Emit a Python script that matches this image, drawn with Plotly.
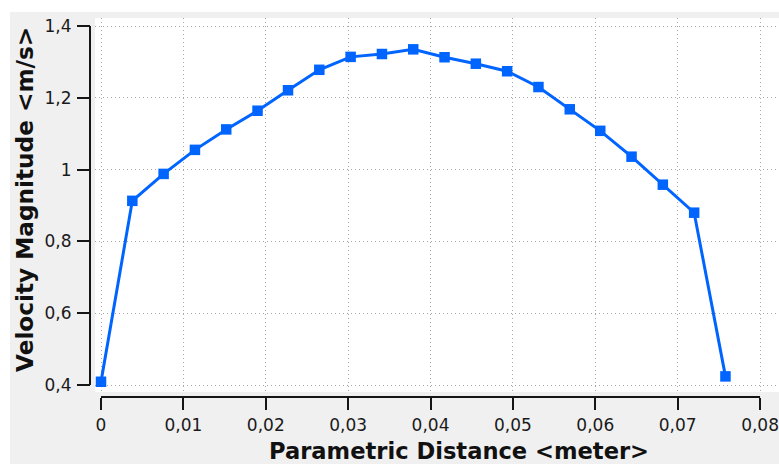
import plotly.graph_objects as go

# ---- data ----
distance = [0.0, 0.0038, 0.0076, 0.0114, 0.0152, 0.0190, 0.0227, 0.0265, 0.0303,
            0.0341, 0.0379, 0.0417, 0.0455, 0.0493, 0.0531, 0.0569, 0.0606,
            0.0644, 0.0682, 0.0720, 0.0758]
velocity = [0.409, 0.913, 0.988, 1.055, 1.112, 1.164, 1.221, 1.278, 1.314,
            1.322, 1.335, 1.313, 1.295, 1.274, 1.230, 1.168, 1.108,
            1.036, 0.958, 0.880, 0.424]

x_tickvals = [0, 0.01, 0.02, 0.03, 0.04, 0.05, 0.06, 0.07, 0.08]
x_ticktext = ["0", "0,01", "0,02", "0,03", "0,04", "0,05", "0,06", "0,07", "0,08"]
y_tickvals = [0.4, 0.6, 0.8, 1.0, 1.2, 1.4]
y_ticktext = ["0,4", "0,6", "0,8", "1", "1,2", "1,4"]

x_title = "Parametric Distance <meter>"
y_title = "Velocity Magnitude <m/s>"

# ---- layout geometry ----
W, H = 779, 464
xdom = [95 / W, 1.0]
ydom = [1 - 392 / H, 1 - 18 / H]
xr = [-0.00073, 0.0823]
yr = [0.3805, 1.4223]
x_axis_pos = 1 - 397 / H
y_axis_pos = 90 / W


def xp(v):
    return xdom[0] + (v - xr[0]) / (xr[1] - xr[0]) * (xdom[1] - xdom[0])


def yp(v):
    return ydom[0] + (v - yr[0]) / (yr[1] - yr[0]) * (ydom[1] - ydom[0])


blue = "#0064ff"
font_fam = "DejaVu Sans"

fig = go.Figure()
fig.add_trace(go.Scatter(
    x=distance, y=velocity, mode="lines+markers",
    line=dict(color=blue, width=3),
    marker=dict(symbol="square", size=10.5, color=blue),
    showlegend=False, hoverinfo="x+y",
))

axis_common = dict(
    showline=False, zeroline=False, showgrid=True,
    gridcolor="#a8a8a8", gridwidth=1, griddash="1px,3px",
    ticks="outside", tickcolor="#151515", tickwidth=2,
    tickfont=dict(family=font_fam, size=17, color="#1a1a1a"),
)

fig.update_layout(
    width=W, height=H,
    margin=dict(l=0, r=0, t=0, b=0),
    paper_bgcolor="#f0f0f0",
    plot_bgcolor="#ffffff",
    xaxis=dict(domain=xdom, range=xr, anchor="free", position=x_axis_pos,
               tickvals=x_tickvals, ticktext=x_ticktext, ticklen=12,
               automargin=False, ticklabelstandoff=1, **axis_common),
    yaxis=dict(domain=ydom, range=yr, anchor="free", position=y_axis_pos,
               tickvals=y_tickvals, ticktext=y_ticktext, ticklen=13,
               automargin=False, ticklabelstandoff=2, **axis_common),
    shapes=[
        # white strips outside the grey panel
        dict(type="rect", xref="paper", yref="paper", x0=0, x1=1,
             y0=1 - 12 / H, y1=1, fillcolor="#ffffff", line=dict(width=0), layer="below"),
        dict(type="rect", xref="paper", yref="paper", x0=0, x1=10 / W,
             y0=0, y1=1, fillcolor="#ffffff", line=dict(width=0), layer="below"),
        # axis lines spanning only the tick range
        dict(type="line", xref="paper", yref="paper",
             x0=xp(x_tickvals[0]), x1=xp(x_tickvals[-1]),
             y0=x_axis_pos, y1=x_axis_pos, line=dict(color="#151515", width=2)),
        dict(type="line", xref="paper", yref="paper",
             x0=y_axis_pos, x1=y_axis_pos,
             y0=yp(y_tickvals[0]), y1=yp(y_tickvals[-1]), line=dict(color="#151515", width=2)),
    ],
    annotations=[
        dict(text="<b>" + x_title.replace("<", "&lt;").replace(">", "&gt;") + "</b>",
             xref="paper", yref="paper", x=459 / W, y=1 - 451 / H,
             xanchor="center", yanchor="middle", showarrow=False,
             font=dict(family=font_fam, size=22.6, color="#111111")),
        dict(text="<b>" + y_title.replace("<", "&lt;").replace(">", "&gt;") + "</b>",
             xref="paper", yref="paper", x=24 / W, y=1 - 200 / H,
             xanchor="center", yanchor="middle", showarrow=False, textangle=-90,
             font=dict(family=font_fam, size=23.2, color="#111111")),
    ],
)

fig.write_html("out.html")
